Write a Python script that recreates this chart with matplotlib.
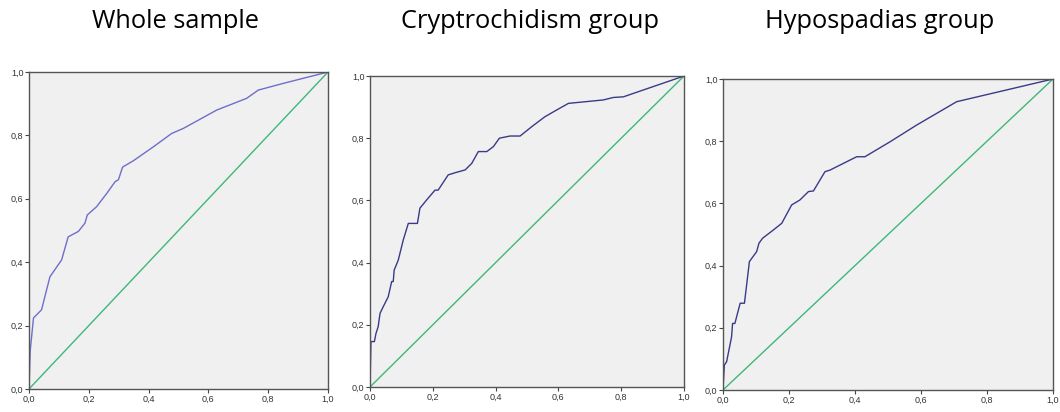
import matplotlib
matplotlib.use("Agg")
import matplotlib.pyplot as plt
from matplotlib.ticker import FuncFormatter

titles = ["Whole sample", "Cryptrochidism group", "Hypospadias group"]

whole_fpr = [0.0, 0.004, 0.015, 0.042, 0.07, 0.109, 0.131, 0.165, 0.187, 0.195, 0.226,
             0.26, 0.288, 0.299, 0.313, 0.349, 0.416, 0.477, 0.516, 0.628, 0.728, 0.767, 0.85, 1.0]
whole_tpr = [0.0, 0.12, 0.224, 0.25, 0.354, 0.407, 0.48, 0.497, 0.523, 0.549, 0.575,
             0.617, 0.654, 0.66, 0.70, 0.72, 0.764, 0.806, 0.822, 0.88, 0.917, 0.943, 0.964, 1.0]

crypt_fpr = [0.0, 0.003, 0.014, 0.019, 0.026, 0.032, 0.042, 0.058, 0.069, 0.074, 0.077,
             0.09, 0.106, 0.122, 0.151, 0.159, 0.18, 0.207, 0.217, 0.249, 0.271, 0.303,
             0.324, 0.345, 0.372, 0.393, 0.412, 0.446, 0.478, 0.515, 0.557, 0.595, 0.632,
             0.743, 0.775, 0.807, 1.0]
crypt_tpr = [0.0, 0.146, 0.146, 0.172, 0.194, 0.237, 0.258, 0.29, 0.339, 0.339, 0.376,
             0.408, 0.473, 0.526, 0.526, 0.575, 0.601, 0.633, 0.633, 0.682, 0.689, 0.698,
             0.719, 0.757, 0.757, 0.773, 0.8, 0.807, 0.807, 0.837, 0.869, 0.891, 0.912,
             0.923, 0.931, 0.933, 1.0]

hypo_fpr = [0.0, 0.004, 0.011, 0.026, 0.029, 0.036, 0.052, 0.065, 0.08, 0.102, 0.109,
            0.12, 0.152, 0.178, 0.208, 0.233, 0.259, 0.274, 0.309, 0.324, 0.405, 0.43,
            0.506, 0.587, 0.708, 1.0]
hypo_tpr = [0.0, 0.08, 0.091, 0.171, 0.214, 0.214, 0.279, 0.279, 0.413, 0.445, 0.472,
            0.488, 0.514, 0.536, 0.595, 0.611, 0.638, 0.64, 0.702, 0.707, 0.75, 0.75,
            0.798, 0.852, 0.927, 1.0]

ref_line = [0.0, 1.0]
ticks = [0.0, 0.2, 0.4, 0.6, 0.8, 1.0]

curves = [(whole_fpr, whole_tpr), (crypt_fpr, crypt_tpr), (hypo_fpr, hypo_tpr)]
curve_colors = ["#6E6ECC", "#3A3A88", "#3A3A88"]
axes_rects = [
    [29 / 1060, 23 / 412, 299 / 1060, 317 / 412],
    [370 / 1060, 25 / 412, 314 / 1060, 311 / 412],
    [723 / 1060, 22 / 412, 330 / 1060, 311 / 412],
]
title_x = [175 / 1060, 530 / 1060, 880 / 1060]

fig = plt.figure(figsize=(10.6, 4.12), dpi=100)
fig.patch.set_facecolor("white")

fmt = FuncFormatter(lambda v, p: f"{v:.1f}".replace(".", ","))

for i, rect in enumerate(axes_rects):
    ax = fig.add_axes(rect)
    ax.set_facecolor("#F0F0F0")
    fx, fy = curves[i]
    ax.plot(ref_line, ref_line, color="#3DB87A", lw=1.0)
    ax.plot(fx, fy, color=curve_colors[i], lw=1.0)
    ax.set_xlim(0, 1)
    ax.set_ylim(0, 1)
    ax.set_xticks(ticks)
    ax.set_yticks(ticks)
    ax.xaxis.set_major_formatter(fmt)
    ax.yaxis.set_major_formatter(fmt)
    ax.tick_params(length=3, width=0.8, pad=1, labelsize=6.5, colors="#444444",
                   labelcolor="#333333")
    for s in ax.spines.values():
        s.set_color("#555555")
        s.set_linewidth(1.0)
    for lab in ax.get_xticklabels() + ax.get_yticklabels():
        lab.set_family("Liberation Sans")
    fig.text(title_x[i], 1 - 22 / 412, titles[i], ha="center", va="center",
             fontsize=18.3, family="Open Sans", color="black")

fig.savefig("out.png", dpi=100, facecolor="white")
